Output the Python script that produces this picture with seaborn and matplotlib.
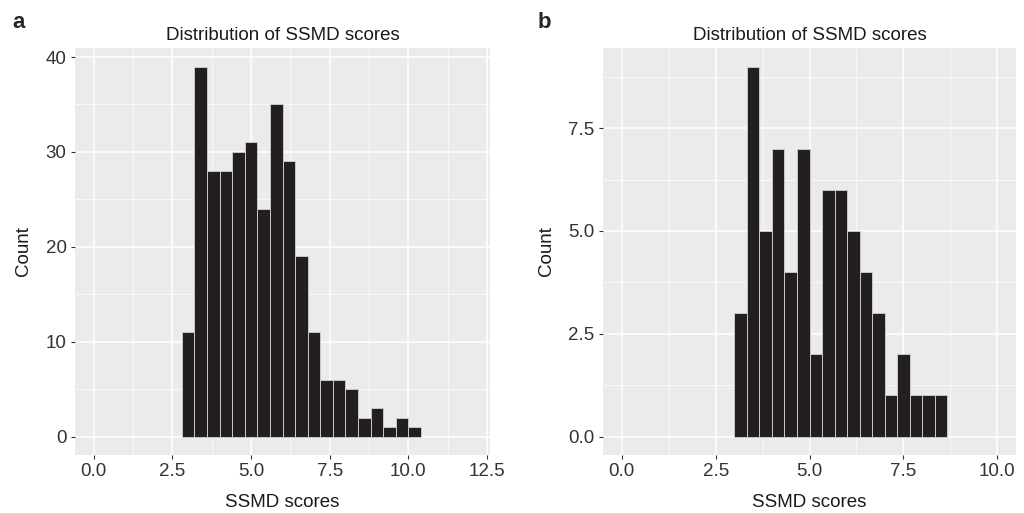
import numpy as np
import pandas as pd
import matplotlib
matplotlib.use('Agg')
import matplotlib.pyplot as plt
from matplotlib.ticker import MultipleLocator
import seaborn as sns

# panel a: 19 bins, width 0.4, starting at 2.8
counts_a = [11, 39, 28, 28, 30, 31, 24, 35, 29, 19, 11, 6, 6, 5, 2, 3, 1, 2, 1]
start_a, width_a = 2.8, 0.4
# panel b: 17 bins, width 1/3, starting at 3.0
counts_b = [3, 9, 5, 7, 4, 7, 2, 6, 6, 5, 4, 3, 1, 2, 1, 1, 1]
start_b, width_b = 3.0, 1 / 3

title = 'Distribution of SSMD scores'
xlabel = 'SSMD scores'
ylabel = 'Count'

sns.set_style('darkgrid', {'axes.facecolor': '#EBEBEB', 'grid.color': 'white'})
plt.rcParams['font.family'] = ['Liberation Sans', 'DejaVu Sans']

fig = plt.figure(figsize=(10.24, 5.13), dpi=100)
ax_a = fig.add_axes([75 / 1024, 58 / 513, 415 / 1024, 407 / 513])
ax_b = fig.add_axes([603 / 1024, 58 / 513, 413 / 1024, 407 / 513])


def draw(ax, counts, start, width, xlim, ylim, xmaj, ymaj, yfmt):
    n = len(counts)
    edges = (start + width * np.arange(n + 1)).tolist()
    centers = [start + width * (i + 0.5) for i in range(n)]
    df = pd.DataFrame({'x': centers, 'n': counts})
    sns.histplot(data=df, x='x', weights='n', bins=edges, ax=ax,
                 color='#231F20', edgecolor='#C8C8C8', linewidth=0.7, alpha=1)
    ax.set_xlim(*xlim)
    ax.set_ylim(*ylim)
    ax.xaxis.set_major_locator(MultipleLocator(xmaj))
    ax.xaxis.set_minor_locator(MultipleLocator(xmaj / 2))
    ax.yaxis.set_major_locator(MultipleLocator(ymaj))
    ax.yaxis.set_minor_locator(MultipleLocator(ymaj / 2))
    ax.xaxis.set_major_formatter(matplotlib.ticker.FormatStrFormatter('%.1f'))
    ax.yaxis.set_major_formatter(matplotlib.ticker.FormatStrFormatter(yfmt))
    ax.grid(which='major', color='white', linewidth=1.1)
    ax.grid(which='minor', color='white', linewidth=0.5)
    ax.set_axisbelow(True)
    for s in ax.spines.values():
        s.set_visible(False)
    ax.tick_params(which='major', direction='out', length=3, width=0.8,
                   color='#333333', labelcolor='#333333', labelsize=13.5,
                   bottom=True, left=True, pad=3)
    ax.tick_params(which='minor', length=0)
    ax.set_title(title, fontsize=13.5, color='#1A1A1A', pad=6)
    ax.set_xlabel(xlabel, fontsize=13.5, color='#1A1A1A', labelpad=10)
    ax.set_ylabel(ylabel, fontsize=13.5, color='#1A1A1A', labelpad=10)


draw(ax_a, counts_a, start_a, width_a, (-0.6, 12.6), (-1.95, 40.95), 2.5, 10, '%d')
draw(ax_b, counts_b, start_b, width_b, (-0.5, 10.5), (-0.45, 9.45), 2.5, 2.5, '%.1f')

fig.text(12 / 1024, 1 - 22 / 513, 'a', fontsize=16, fontweight='bold', va='center', ha='left')
fig.text(538 / 1024, 1 - 22 / 513, 'b', fontsize=16, fontweight='bold', va='center', ha='left')

fig.savefig('out.png', dpi=100)
